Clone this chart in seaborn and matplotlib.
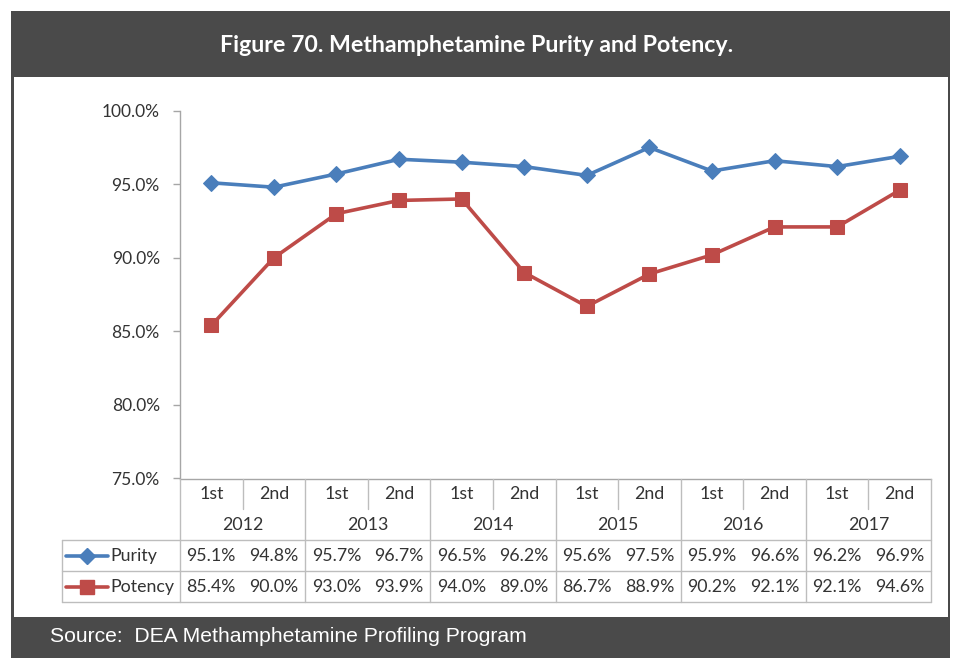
import matplotlib
matplotlib.use("Agg")
import matplotlib.pyplot as plt
from matplotlib.patches import Rectangle
import pandas as pd
import seaborn as sns

sns.set_theme(style="white")
plt.rcParams['font.family'] = ['Lato', 'DejaVu Sans']

# data
periods = ['1st', '2nd'] * 6
years = ['2012', '2013', '2014', '2015', '2016', '2017']
purity = [95.1, 94.8, 95.7, 96.7, 96.5, 96.2, 95.6, 97.5, 95.9, 96.6, 96.2, 96.9]
potency = [85.4, 90.0, 93.0, 93.9, 94.0, 89.0, 86.7, 88.9, 90.2, 92.1, 92.1, 94.6]
y_ticks = [75, 80, 85, 90, 95, 100]
title = 'Figure 70. Methamphetamine Purity and Potency.'
source = 'Source:  DEA Methamphetamine Profiling Program'

blue = '#4a7ebb'
red = '#be4b48'
dark = '#4a4a4a'
grid = '#bdbdbd'
txt = '#333333'

W, H = 960, 670
fig = plt.figure(figsize=(9.6, 6.7), dpi=100)


def box(x0, y0, x1, y1):
    # pixel box -> figure fraction [left, bottom, width, height]
    return [x0 / W, 1 - y1 / H, (x1 - x0) / W, (y1 - y0) / H]


# frame: dark box with white panel inside
b = box(11, 11, 950, 658)
fig.add_artist(Rectangle((b[0], b[1]), b[2], b[3], transform=fig.transFigure,
                         facecolor=dark, edgecolor='none', zorder=0))
b = box(13.5, 77, 947.5, 616.5)
fig.add_artist(Rectangle((b[0], b[1]), b[2], b[3], transform=fig.transFigure,
                         facecolor='white', edgecolor='none', zorder=0))
fig.text(477 / W, 1 - 45 / H, title, color='white', fontsize=16.7, fontweight='bold',
         ha='center', va='center')
fig.text(50 / W, 1 - 637 / H, source, color='white', fontsize=15.2,
         family=['Liberation Sans', 'DejaVu Sans'], ha='left', va='center')

# line chart
df = pd.DataFrame({'idx': range(len(purity)), 'Purity': purity, 'Potency': potency})
ax = fig.add_axes(box(180, 110.7, 931, 478.5))
ax.set_facecolor('none')
sns.lineplot(data=df, x='idx', y='Purity', ax=ax, color=blue, lw=2.6,
             marker='D', ms=8.5, mec=blue, mfc=blue)
sns.lineplot(data=df, x='idx', y='Potency', ax=ax, color=red, lw=2.6,
             marker='s', ms=9.5, mec=red, mfc=red)
ax.set_xlim(-0.5, len(purity) - 0.5)
ax.set_ylim(y_ticks[0], y_ticks[-1])
ax.set_yticks(y_ticks)
ax.set_yticklabels([f'{v:.1f}%' for v in y_ticks])
ax.set_xticks([])
ax.set_xlabel('')
ax.set_ylabel('')
ax.tick_params(axis='y', left=True, length=5, width=1, color='#a6a6a6',
               pad=9.5, labelsize=12.5, labelcolor=txt)
for s in ['top', 'right']:
    ax.spines[s].set_visible(False)
for s in ['left', 'bottom']:
    ax.spines[s].set_color('#a6a6a6')
    ax.spines[s].set_linewidth(1)

# data table under the chart
n = len(purity)
tax = fig.add_axes(box(180, 478.5, 931, 602))
tax.set_xlim(-0.5, n - 0.5)
tax.set_ylim(4, 0)
tax.axis('off')
left = -0.5 - (180 - 62) / (751 / n)
kw = dict(color=grid, lw=1, clip_on=False)
for i in range(n + 1):
    xb = i - 0.5
    if i % 2 == 0:
        tax.plot([xb, xb], [0, 4], **kw)
    else:
        tax.plot([xb, xb], [0, 1], **kw)
tax.plot([left, left], [2, 4], **kw)
for yr in [2, 3, 4]:
    tax.plot([left, n - 0.5], [yr, yr], **kw)

tk = dict(ha='center', va='center', fontsize=12.8, color=txt, clip_on=False)
for i, p in enumerate(periods):
    tax.text(i, 0.5, p, **tk)
    tax.text(i, 2.5, f'{purity[i]:.1f}%', **tk)
    tax.text(i, 3.5, f'{potency[i]:.1f}%', **tk)
for k, y in enumerate(years):
    tax.text(2 * k + 0.5, 1.5, y, **tk)

px = 751 / n
lx0, lx1, lm = [(v - 180) / px - 0.5 for v in (66, 108, 87)]
tax.plot([lx0, lx1], [2.5, 2.5], color=blue, lw=2.6, clip_on=False)
tax.plot([lm], [2.5], marker='D', ms=8.5, color=blue, clip_on=False)
tax.plot([lx0, lx1], [3.5, 3.5], color=red, lw=2.6, clip_on=False)
tax.plot([lm], [3.5], marker='s', ms=9.5, color=red, clip_on=False)
lt = (110 - 180) / px - 0.5
tax.text(lt, 2.5, 'Purity', ha='left', va='center', fontsize=12.8, color=txt, clip_on=False)
tax.text(lt, 3.5, 'Potency', ha='left', va='center', fontsize=12.8, color=txt, clip_on=False)

fig.savefig('out.png', dpi=100, facecolor='white')
